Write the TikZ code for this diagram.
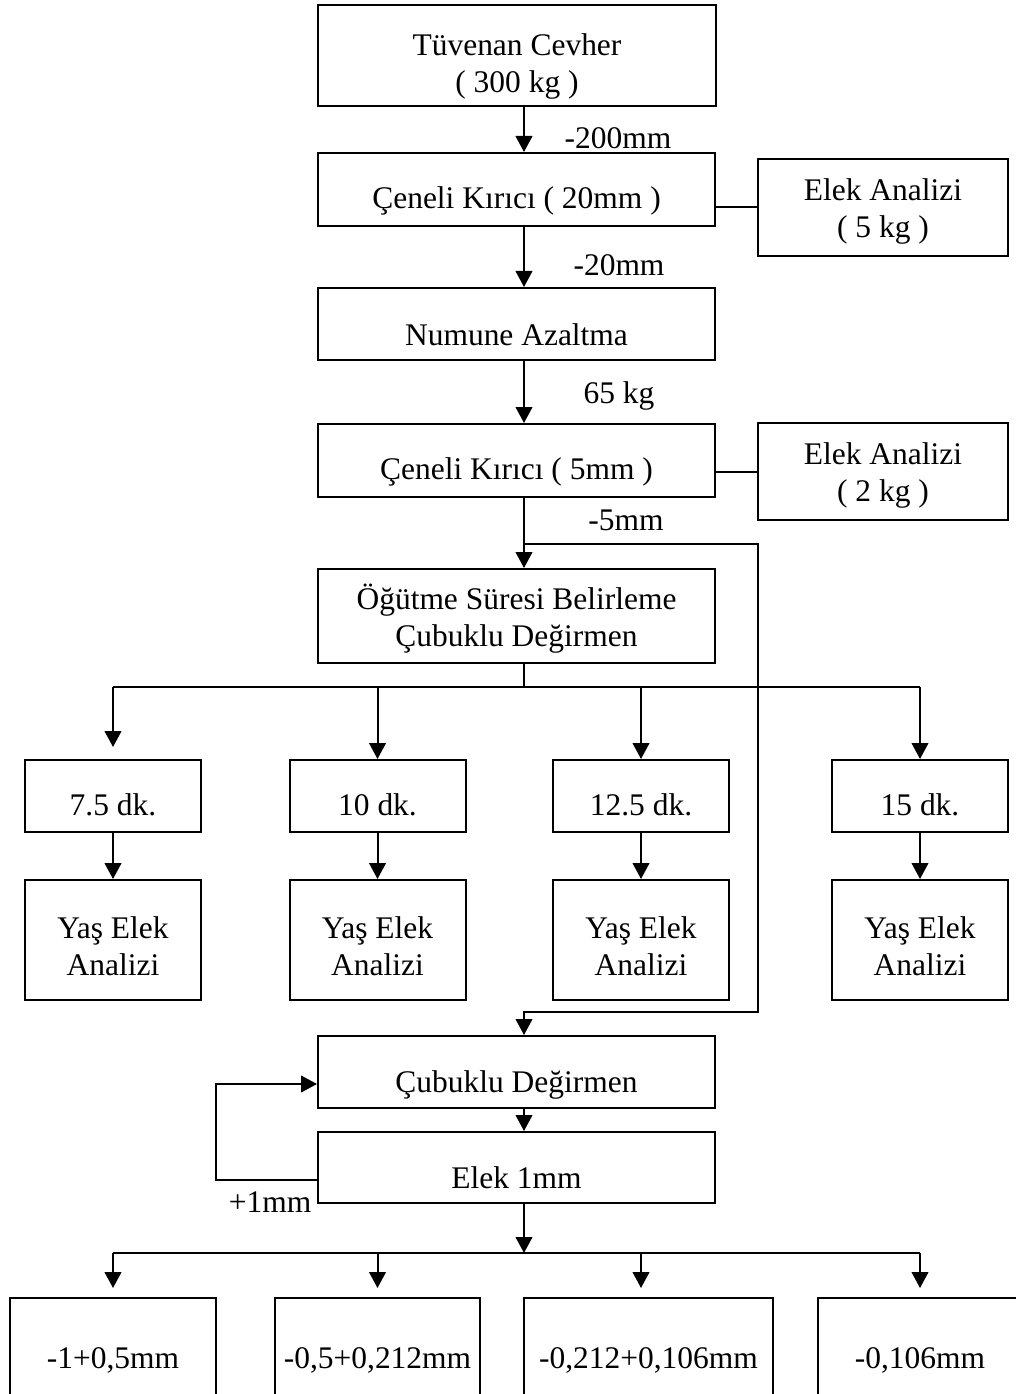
\documentclass[tikz,border=0pt]{standalone}
\usepackage{fontspec}
\setmainfont{Liberation Serif}
\usetikzlibrary{arrows.meta}
\newcommand\fsz{\fontsize{23.6pt}{27.75pt}\selectfont}
% lower a line of text inside its box without changing the box's size
\newcommand\dn[2]{\raisebox{-#1}[\height][\depth]{#2}}
\tikzset{
  box/.style={draw, line width=1.5pt, inner sep=0pt, align=center, font=\fsz},
  conn/.style={line width=1.5pt},
  arr/.style={conn, -{Triangle[width=12.5pt,length=12pt]}},
  lbl/.style={font=\fsz, inner sep=0pt, anchor=base}
}
\begin{document}
\begin{tikzpicture}[x=0.75pt,y=-0.75pt]
\useasboundingbox (0,0) rectangle (1016,1394);
% spine and helper coordinates
\coordinate (sp) at (524,0);
\coordinate (br1) at (758,544);
\coordinate (br2) at (758,1012);
\coordinate (hz) at (0,687);
\coordinate (hz2) at (0,1253);
\coordinate (lpA) at (216,1180);
\coordinate (lpB) at (216,1084);
% boxes
\node[box, minimum width=298.5pt, minimum height=75.75pt] (top) at (517,55.5) {\dn{8pt}{Tüvenan Cevher}\\\dn{8pt}{( 300 kg )}};
\node[box, minimum width=297.75pt, minimum height=54.75pt] (c1) at (516.5,189.5) {\dn{8.5pt}{Çeneli Kırıcı ( 20mm )}};
\node[box, minimum width=187.5pt, minimum height=72.75pt] (e1) at (883,207.5) {\dn{3pt}{Elek Analizi}\\\dn{3pt}{( 5 kg )}};
\node[box, minimum width=297.75pt, minimum height=54pt] (num) at (516.5,324) {\dn{8pt}{Numune Azaltma}};
\node[box, minimum width=297.75pt, minimum height=54.75pt] (c2) at (516.5,460.5) {\dn{8.5pt}{Çeneli Kırıcı ( 5mm )}};
\node[box, minimum width=187.5pt, minimum height=72.75pt] (e2) at (883,471.5) {\dn{3pt}{Elek Analizi}\\\dn{3pt}{( 2 kg )}};
\node[box, minimum width=297.75pt, minimum height=70.5pt] (og) at (516.5,616) {\dn{2pt}{Öğütme Süresi Belirleme}\\\dn{2pt}{Çubuklu Değirmen}};
\node[box, minimum width=132pt, minimum height=54pt] (t1) at (113,796) {\dn{6.5pt}{7.5 dk.}};
\node[box, minimum width=132pt, minimum height=54pt] (t2) at (377.5,796) {\dn{6.5pt}{10 dk.}};
\node[box, minimum width=132pt, minimum height=54pt] (t3) at (641,796) {\dn{6.5pt}{12.5 dk.}};
\node[box, minimum width=132pt, minimum height=54pt] (t4) at (920,796) {\dn{6.5pt}{15 dk.}};
\node[box, minimum width=132pt, minimum height=90pt] (y1) at (113,940) {\dn{4.5pt}{Yaş Elek}\\\dn{4.5pt}{Analizi}};
\node[box, minimum width=132pt, minimum height=90pt] (y2) at (377.5,940) {\dn{4.5pt}{Yaş Elek}\\\dn{4.5pt}{Analizi}};
\node[box, minimum width=132pt, minimum height=90pt] (y3) at (641,940) {\dn{4.5pt}{Yaş Elek}\\\dn{4.5pt}{Analizi}};
\node[box, minimum width=132pt, minimum height=90pt] (y4) at (920,940) {\dn{4.5pt}{Yaş Elek}\\\dn{4.5pt}{Analizi}};
\node[box, minimum width=297.75pt, minimum height=54pt] (cub) at (516.5,1072) {\dn{9.5pt}{Çubuklu Değirmen}};
\node[box, minimum width=297.75pt, minimum height=53.25pt] (el) at (516.5,1167.5) {\dn{8pt}{Elek 1mm}};
\node[box, minimum width=154.5pt, minimum height=90pt] (b1) at (113,1358) {\dn{1.5pt}{-1+0,5mm}};
\node[box, minimum width=153.75pt, minimum height=90pt] (b2) at (377.5,1358) {\dn{1.5pt}{-0,5+0,212mm}};
\node[box, minimum width=186.75pt, minimum height=90pt] (b3) at (648.5,1358) {\dn{1.5pt}{-0,212+0,106mm}};
\node[box, minimum width=153pt, minimum height=90pt] (b4) at (920,1358) {\dn{1.5pt}{-0,106mm}};
% labels
\node[lbl] (l1) at (618,149) {-200mm};
\node[lbl] (l2) at (619,276) {-20mm};
\node[lbl] (l3) at (619,403) {65 kg};
\node[lbl] (l4) at (626,530) {-5mm};
\node[lbl] (l5) at (270,1212) {+1mm};
% connectors
\draw[arr] (top.south -| sp) -- (c1.north -| sp);
\draw[conn] (e1.west -| c1.east) -- (e1.west);
\draw[arr] (c1.south -| sp) -- (num.north -| sp);
\draw[arr] (num.south -| sp) -- (c2.north -| sp);
\draw[conn] (e2.west -| c2.east) -- (e2.west);
\draw[arr] (c2.south -| sp) -- (og.north -| sp);
\draw[arr] (sp |- br1) -- (br1) -- (br2) -- (sp |- br2) -- (cub.north -| sp);
\draw[conn] (og.south -| sp) -- (sp |- hz);
\draw[conn] (t1 |- hz) -- (t4 |- hz);
\draw[arr, shorten >=9pt] (t1 |- hz) -- (t1.north);
\draw[arr] (t2 |- hz) -- (t2.north);
\draw[arr] (t3 |- hz) -- (t3.north);
\draw[arr] (t4 |- hz) -- (t4.north);
\draw[arr] (t1.south) -- (y1.north);
\draw[arr] (t2.south) -- (y2.north);
\draw[arr] (t3.south) -- (y3.north);
\draw[arr] (t4.south) -- (y4.north);
\draw[arr] (cub.south -| sp) -- (el.north -| sp);
\draw[arr] (el.west |- lpA) -- (lpA) -- (lpB) -- (cub.west |- lpB);
\draw[arr] (el.south -| sp) -- (sp |- hz2);
\draw[conn] (t1 |- hz2) -- (t4 |- hz2);
\draw[arr, shorten >=6.75pt] (t1 |- hz2) -- (b1.north -| t1);
\draw[arr, shorten >=6.75pt] (t2 |- hz2) -- (b2.north -| t2);
\draw[arr, shorten >=6.75pt] (t3 |- hz2) -- (b3.north -| t3);
\draw[arr, shorten >=6.75pt] (t4 |- hz2) -- (b4.north -| t4);
\end{tikzpicture}
\end{document}
